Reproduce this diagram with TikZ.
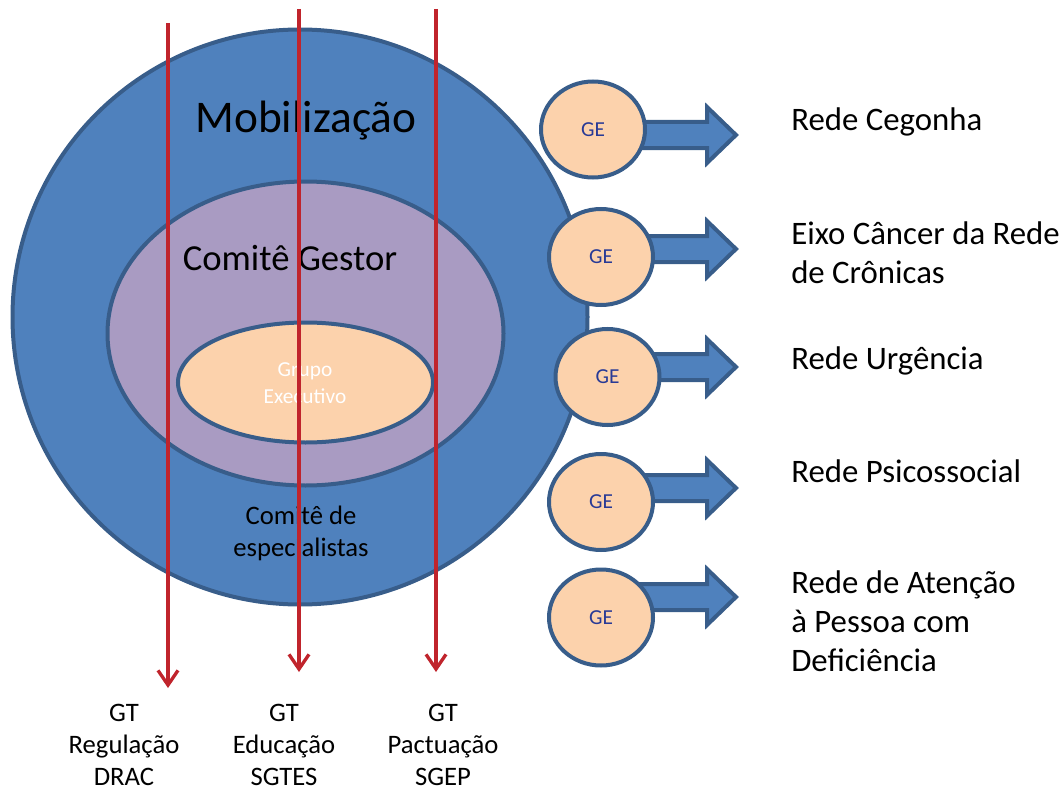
\documentclass[tikz,border=0pt]{standalone}
\usepackage{fontspec}
\setmainfont{Carlito}
\usetikzlibrary{arrows.meta,shapes.geometric}

\definecolor{mobblue}{RGB}{79,129,189}
\definecolor{mobedge}{RGB}{56,93,138}
\definecolor{gestorlilac}{RGB}{169,155,194}
\definecolor{peach}{RGB}{252,210,172}
\definecolor{gtred}{RGB}{192,36,44}
\definecolor{getext}{RGB}{40,58,150}

\tikzset{
  rim/.style={draw=mobedge, line width=3pt},
  gecircle/.style={ellipse, rim, fill=peach, inner sep=0pt,
    minimum width=78pt, minimum height=72pt,
    font=\fontsize{16}{19}\selectfont, text=getext},
  blockarrow/.style={rim, fill=mobblue, line join=miter},
  redetext/.style={anchor=west, inner sep=0pt, align=left,
    font=\fontsize{24.6}{29.25}\selectfont},
  gttext/.style={inner sep=0pt, align=center,
    font=\fontsize{20}{24.2}\selectfont},
  gtline/.style={draw=gtred, line width=2.5pt,
    -{Straight Barb[length=11pt,width=15pt]}},
}

\begin{document}
\begin{tikzpicture}[x=0.75pt,y=0.75pt,yscale=-1]
\useasboundingbox (0,0) rectangle (1061,792);

%Shape: Mobilizacao circle
\draw [rim, fill=mobblue] (300,317) circle [radius=287.5];
%Shape: Comite Gestor ellipse
\draw [rim, fill=gestorlilac] (305.5,333.5) ellipse [x radius=198, y radius=152];
%Shape: Grupo Executivo ellipse
\draw [rim, fill=peach] (305.5,382.5) ellipse [x radius=127.5, y radius=60];

%Block arrows and GE circles
\foreach \cx/\cy/\ay/\n in {593/129.5/135/1, 601/257/249/2, 607.5/377/367/3, 601/502/488/4, 601/617.5/597/5}{
  \draw [blockarrow] (\cx,\ay-13) -- (707,\ay-13) -- (707,\ay-28) -- (736,\ay)
        -- (707,\ay+28) -- (707,\ay+13) -- (\cx,\ay+13) -- cycle;
  \node [gecircle] (ge\n) at (\cx,\cy) {GE};
}

% Text Node
\node [inner sep=0pt, font=\fontsize{34}{40}\selectfont] (mobil) at (306,121) {Mobilização};
% Text Node
\node [inner sep=0pt, font=\fontsize{27.5}{32}\selectfont] (gestor) at (290,258) {Comitê Gestor};
% Text Node
\node [inner sep=0pt, align=center, text=white, font=\fontsize{16}{20}\selectfont] (grupo) at (305,383) {Grupo\\Executivo};
% Text Node
\node [inner sep=0pt, align=center, font=\fontsize{20}{24}\selectfont] (espec) at (301,533) {Comitê de\\especialistas};

% Rede labels
\node [redetext] (cegonha) at (791,122) {Rede Cegonha};
\node [redetext] (cancer) at (791,253) {Eixo Câncer da Rede\\de Crônicas};
\node [redetext] (urgencia) at (791,361) {Rede Urgência};
\node [redetext] (psico) at (791,471) {Rede Psicossocial};
\node [redetext] (defic) at (791,621) {Rede de Atenção\\à Pessoa com\\Deficiência};

% GT labels
\node [gttext] (gtreg) at (124,745) {GT\\Regulação\\DRAC};
\node [gttext] (gtedu) at (284,745) {GT\\Educação\\SGTES};
\node [gttext] (gtpac) at (443,745) {GT\\Pactuação\\SGEP};

% GT lines
\coordinate (regtop) at (168,23);
\coordinate (regend) at (168,688);
\coordinate (edutop) at (299,9);
\coordinate (eduend) at (299,672);
\coordinate (pactop) at (436,9);
\coordinate (pacend) at (436,672);
\draw [gtline] (regtop) -- (regend);
\draw [gtline] (edutop) -- (eduend);
\draw [gtline] (pactop) -- (pacend);

\end{tikzpicture}
\end{document}
